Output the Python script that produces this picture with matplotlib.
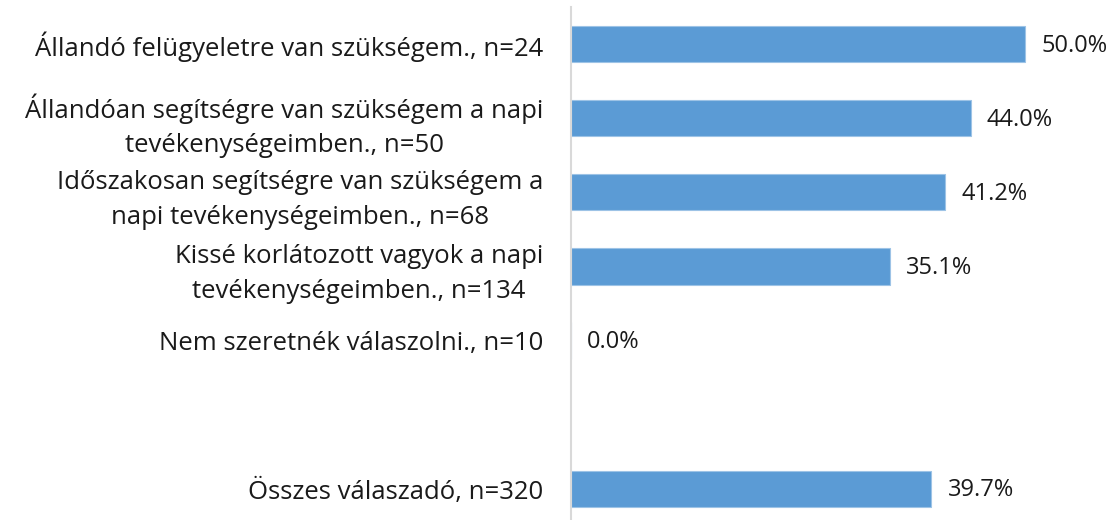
import numpy as np
import matplotlib.pyplot as plt

labels = [
    "Állandó felügyeletre van szükségem., n=24",
    "Állandóan segítségre van szükségem a napi\ntevékenységeimben., n=50",
    "Időszakosan segítségre van szükségem a\nnapi tevékenységeimben., n=68",
    "Kissé korlátozott vagyok a napi\ntevékenységeimben., n=134",
    "Nem szeretnék válaszolni., n=10",
    "",
    "Összes válaszadó, n=320",
]
values = [50.0, 44.0, 41.2, 35.1, 0.0, None, 39.7]

plt.rcParams['font.family'] = ['Open Sans', 'DejaVu Sans']

W, H = 1114, 520
fig = plt.figure(figsize=(W / 100, H / 100), dpi=100)
ax = fig.add_axes([571 / W, 0, 1 - 571 / W, 1 - 7 / H])

n = len(labels)
ypos = np.arange(n)[::-1]  # first item on top
for y, v in zip(ypos, values):
    if v is None:
        continue
    ax.barh(y, v, height=0.49, color='#5B9BD5', edgecolor='#9DC3E6', linewidth=0.8)
    ax.text(v + 1.8, y - 0.02, f"{v:.1f}%", va='center', ha='left',
            fontsize=17, color='#1a1a1a')

ax.set_xlim(0, 59.8)
ax.set_ylim(-0.42, 6.5)
ax.set_yticks(ypos)
ax.set_yticklabels(labels, fontsize=18.5, color='#1a1a1a',
                   multialignment='center', linespacing=1.5)
ax.tick_params(axis='y', length=0, pad=20)
ax.set_xticks([])
for s in ['top', 'right', 'bottom']:
    ax.spines[s].set_visible(False)
ax.spines['left'].set_color('#d9d9d9')
ax.spines['left'].set_linewidth(1.5)

fig.savefig('out.png', dpi=100)
